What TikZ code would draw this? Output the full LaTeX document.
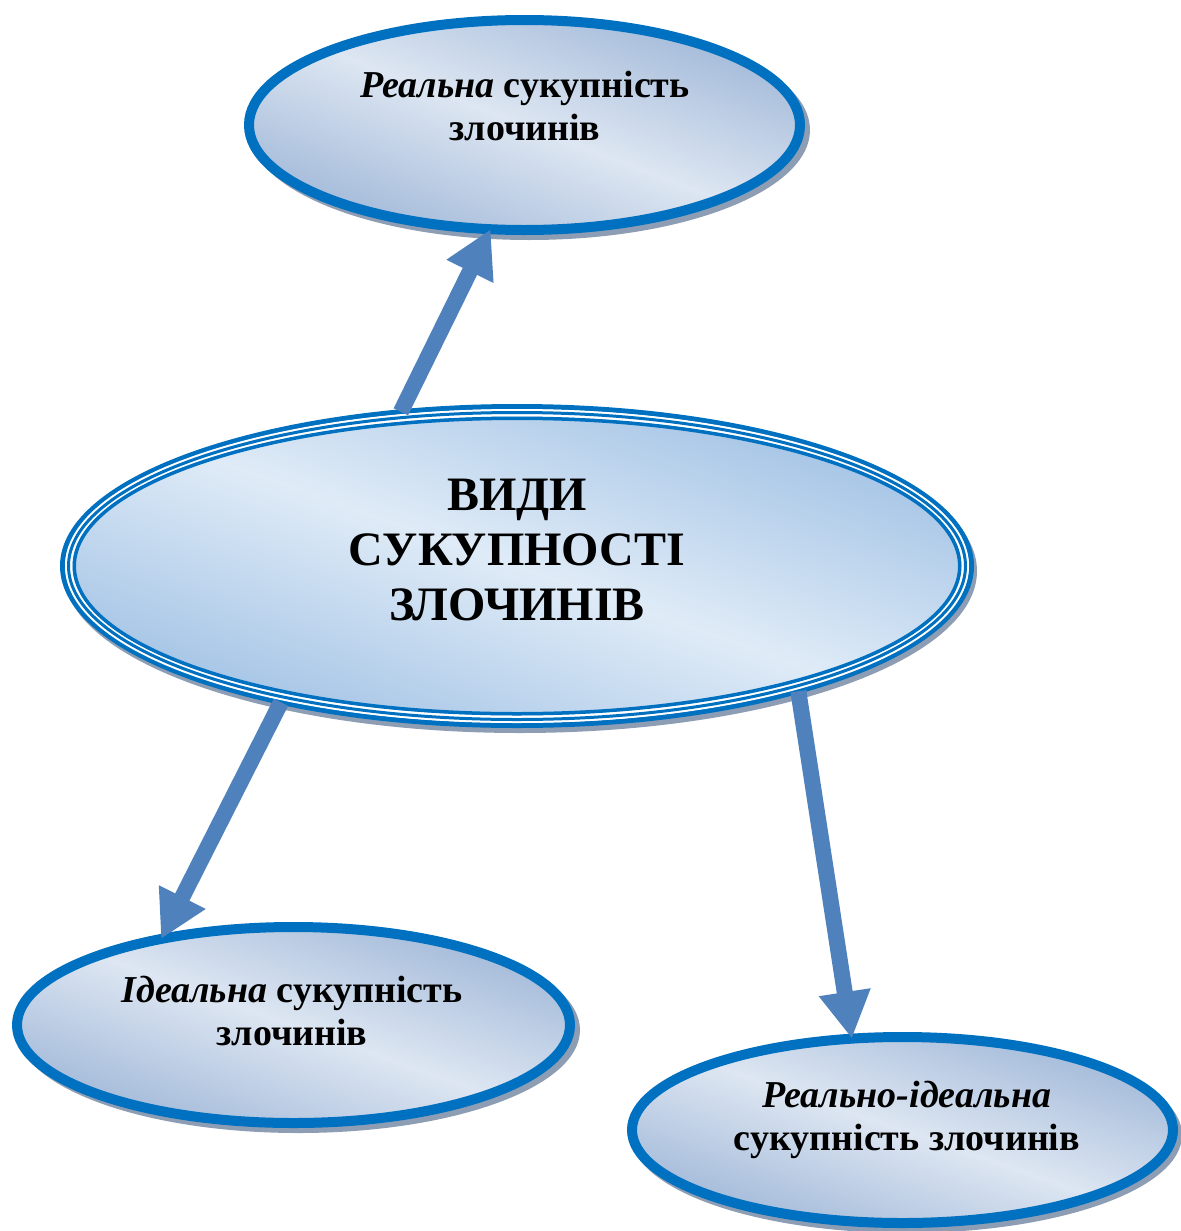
\documentclass[tikz,border=0pt]{standalone}
\usepackage{fontspec}
\setmainfont{Liberation Serif}
\usetikzlibrary{arrows.meta,backgrounds,calc,shapes.geometric}
\definecolor{rim}{HTML}{0070C0}
\definecolor{arr}{HTML}{4F81BD}
\definecolor{shd}{HTML}{8D9DB3}
\definecolor{lt}{HTML}{DDE6F2}
\definecolor{dk}{HTML}{A7BDDB}
\definecolor{clt}{HTML}{DFEBF7}
\definecolor{cdk}{HTML}{A6C5E6}
\tikzset{
  oval/.style={ellipse, draw=rim, line width=5pt, inner sep=0pt, outer sep=0pt},
  bigoval/.style={ellipse, draw=rim, line width=2.5pt, inner sep=0pt, outer sep=0pt},
  ovalshade/.style={top color=dk, bottom color=dk, middle color=lt, shading angle=-45},
  bigshade/.style={top color=cdk, bottom color=cdk, middle color=clt, shading angle=-45},
  shadowfill/.style={fill=shd},
  smalltext/.style={align=center, font=\bfseries\fontsize{19pt}{21.5pt}\selectfont, inner sep=0pt},
  bigtext/.style={align=center, font=\bfseries\fontsize{24pt}{27.5pt}\selectfont, inner sep=0pt},
  fatarrow/.style={draw=arr, line width=8pt, -{Triangle[length=23.5pt,width=24.5pt]}}
}
\begin{document}
\begin{tikzpicture}[x=0.5pt,y=-0.5pt]
\useasboundingbox (0,0) rectangle (1181,1231);
% ellipses (rims)
\node[oval, minimum width=275.5pt, minimum height=105pt] (real) at (524.5,125) {};
\node[oval, minimum width=276.5pt, minimum height=98pt] (ideal) at (293.5,1025) {};
\node[oval, minimum width=270.5pt, minimum height=93pt] (realideal) at (902.5,1130) {};
\node[bigoval, minimum width=454.5pt, minimum height=159.5pt] (kinds) at (517,566) {};
% triple rim of the central ellipse
\draw[white, line width=3.75pt] (kinds.center) ellipse [x radius=228.5pt-4.375pt, y radius=81pt-4.375pt];
\draw[rim, line width=1.5pt] (kinds.center) ellipse [x radius=228.5pt-4.25pt, y radius=81pt-4.25pt];
\draw[rim, line width=1.75pt] (kinds.center) ellipse [x radius=228.5pt-7.125pt, y radius=81pt-7.125pt];
% shadows and gradient fills
\begin{scope}[on background layer]
  \fill[shadowfill] ($(real.center)+(5,5)$) ellipse [x radius=140.25pt, y radius=55pt];
  \fill[shadowfill] ($(ideal.center)+(5,5)$) ellipse [x radius=140.75pt, y radius=51.5pt];
  \fill[shadowfill] ($(realideal.center)+(4,5)$) ellipse [x radius=137.75pt, y radius=49pt];
  \fill[shadowfill] ($(kinds.center)+(3,5)$) ellipse [x radius=228.5pt, y radius=81pt];
  \begin{scope}[transform canvas={shift={(real.center)}, xscale=2.6238}]
    \shade[ovalshade] (0,0) circle [radius=52.5pt];
  \end{scope}
  \begin{scope}[transform canvas={shift={(ideal.center)}, xscale=2.8214}]
    \shade[ovalshade] (0,0) circle [radius=49pt];
  \end{scope}
  \begin{scope}[transform canvas={shift={(realideal.center)}, xscale=2.9086}]
    \shade[ovalshade] (0,0) circle [radius=46.5pt];
  \end{scope}
  \begin{scope}[transform canvas={shift={(kinds.center)}, xscale=2.8495}]
    \shade[bigshade] (0,0) circle [radius=79.8pt];
  \end{scope}
\end{scope}
% texts
\node[smalltext] (realtxt) at (525,106) {\textit{Реальна} сукупність\\злочинів};
\node[smalltext] (idealtxt) at (292,1011) {\textit{Ідеальна} сукупність\\злочинів};
\node[smalltext] (realidealtxt) at (907,1120) {\textit{Реально-ідеальна}\\сукупність злочинів};
\node[bigtext] (kindstxt) at (517,550) {ВИДИ\\СУКУПНОСТІ\\ЗЛОЧИНІВ};
% arrows
\draw[fatarrow] (kinds.127.5) -- (real.252.1);
\draw[fatarrow] (kinds.210.3) -- (ideal.147.3);
\draw[fatarrow] (kinds.336.1) -- (realideal.119.3);
\end{tikzpicture}
\end{document}
